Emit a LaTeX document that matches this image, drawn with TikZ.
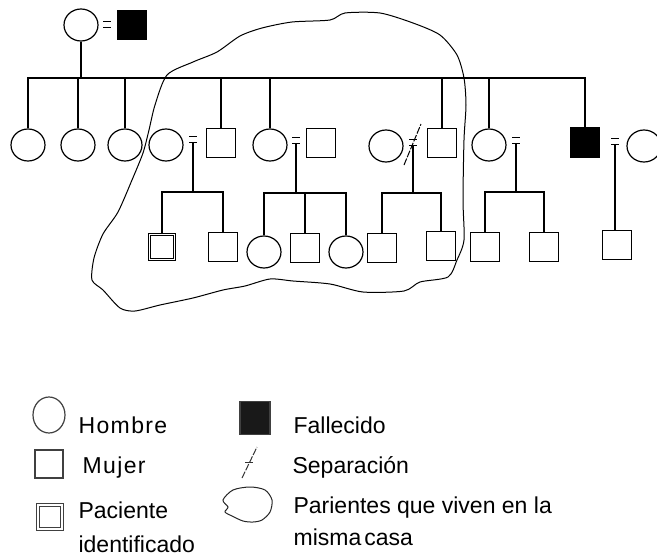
\documentclass[tikz,border=0pt]{standalone}
\usepackage{fontspec}
\setmainfont{Liberation Sans}
\usetikzlibrary{shapes.geometric}

\begin{document}
\begin{tikzpicture}[
  x=1pt, y=-1pt,
  line width=1.2pt,
  man/.style={draw, ellipse, minimum width=34pt, minimum height=32pt, inner sep=0pt},
  woman/.style={draw, rectangle, minimum size=29pt, inner sep=0pt},
  dead/.style={woman, fill=black},
  patient/.style={woman, double, line width=1pt, double distance=1.6pt, minimum size=25pt},
  house/.style={line width=1pt},
  sepline/.style={line width=1pt, dash pattern=on 7pt off 1.5pt},
  legendsym/.style={draw=black!75},
  legendtext/.style={anchor=base west, inner sep=0pt, align=left,
    font=\fontsize{23}{33}\selectfont},
  wed/.pic={\draw[line width=1pt] (-4,-3) -- (4,-3) (-4,3) -- (4,3);}
]
\useasboundingbox (0,0) rectangle (657,557);

% grandparents
\node[man] (gm) at (81,25) {};
\node[dead] (gf) at (132,25) {};
\pic at (107,24.5) {wed};
\coordinate (sib) at (81,78);

% children and their partners
\node[man] (s1) at (28,145) {};
\node[man] (s2) at (78,145) {};
\node[man] (s3) at (125,145) {};
\node[man] (w4) at (166,145) {};
\node[woman] (s4) at (221,143) {};
\node[man] (s5) at (270,145) {};
\node[woman] (h5) at (321,143) {};
\node[man] (w6) at (386,146) {};
\node[woman] (s6) at (442,143) {};
\node[man] (s7) at (489,145) {};
\node[dead] (s8) at (585,142.5) {};
\node[man] (w8) at (644,146) {};

\draw (gm.south) -- (sib);
\draw (s1.north) |- (sib) -| (s8.north);
\foreach \n in {s2,s3,s4,s5,s6,s7}
  \draw (\n.north) -- (\n.north |- sib);

% marriages
\pic at (193,139) {wed};
\pic at (296,140) {wed};
\pic at (413,142) {wed};
\pic at (516,140) {wed};
\pic at (615,141) {wed};
\coordinate (m4) at (193,142);
\coordinate (m5) at (296,143);
\coordinate (m6) at (413,145);
\coordinate (m7) at (516,143);
\coordinate (m8) at (615,144);
\coordinate (k4) at (193,192);
\coordinate (k5) at (296,193);
\coordinate (k6) at (413,193);
\coordinate (k7) at (516,192);
\draw[sepline] (404,165) -- (421,124);

% grandchildren
\node[patient] (g1) at (162,247) {};
\node[woman] (g2) at (223,247) {};
\node[man] (g3) at (264,252) {};
\node[woman] (g4) at (305,248) {};
\node[man] (g5) at (346,252) {};
\node[woman] (g6) at (382,248) {};
\node[woman] (g7) at (441,246) {};
\node[woman] (g8) at (485,247) {};
\node[woman] (g9) at (544,247) {};
\node[woman] (g10) at (617,245) {};

\draw (m4) -- (k4);
\draw (g1.north) |- (k4) -| (g2.north);
\draw (m5) -- (k5);
\draw (g3.north) |- (k5) -| (g5.north);
\draw (g4.north) -- (g4.north |- k5);
\draw (m6) -- (k6);
\draw (g6.north) |- (k6) -| (g7.north);
\draw (m7) -- (k7);
\draw (g8.north) |- (k7) -| (g9.north);
\draw (m8) -- (m8 |- g10.north);

% household
\draw[house] plot[smooth cycle, tension=0.45] coordinates {
  (330,20) (345,13) (380,13) (413,23) (440,35) (457,55) (464,78)
  (466,105) (464,140) (463,200) (464,240) (457,260) (448,277)
  (420,282) (404,291) (363,292) (330,284) (293,281) (270,279)
  (245,286) (223,290) (193,298) (160,305) (135,311) (120,308)
  (103,290) (92,280) (94,258) (103,234) (118,212) (132,180)
  (143,153) (149,130) (155,105) (167,75) (193,62) (217,52)
  (240,36) (262,28) (292,22)};

% legend
\node[man, legendsym, minimum width=32pt, minimum height=36pt] (lh) at (49,415) {};
\node[legendtext] (th) at (78,433) {\addfontfeature{LetterSpace=6}Hombre};
\node[woman, legendsym, minimum size=28pt] (lm) at (49,464) {};
\node[legendtext] (tm) at (82,473) {\addfontfeature{LetterSpace=6}Mujer};
\node[patient, draw=black!75, minimum size=24pt] (lp) at (50,517) {};
\node[legendtext, font=\fontsize{23}{34}\selectfont] (tp) at (78,552) {Paciente\\identificado};
\node[dead, legendsym, fill=black!90, minimum width=30pt, minimum height=33pt] (ld) at (255,418) {};
\node[legendtext] (td) at (293,433) {Fallecido};
\draw[sepline, draw=black!80] (242,478) -- (257,447);
\draw[line width=1pt, draw=black!80] (245,462) -- (253,462);
\node[legendtext] (ts) at (292,473) {Separación};
\draw[house, draw=black!85] plot[smooth cycle, tension=0.5] coordinates {
  (223,500) (233,490) (250,487) (265,490) (272,500) (270,512)
  (262,520) (253,522) (243,521) (232,516) (225,512) (228,507)};
\node[legendtext, font=\fontsize{23}{32}\selectfont] (tv) at (293,545) {Parientes que viven en la\\misma\hspace{3pt}casa};
\end{tikzpicture}
\end{document}
